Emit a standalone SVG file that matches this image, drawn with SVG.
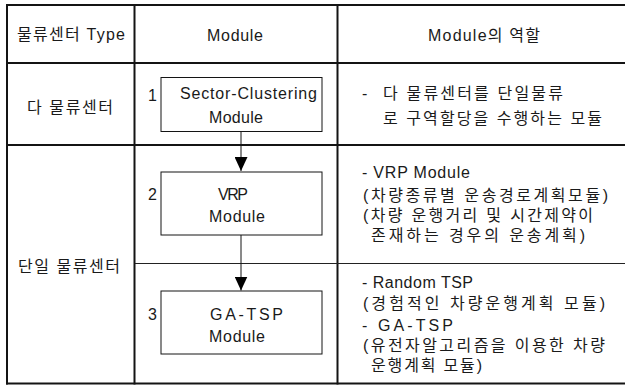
<svg xmlns="http://www.w3.org/2000/svg" width="625" height="385" viewBox="0 0 625 385">
<style>
.t{font-family:"Liberation Sans","Noto Sans CJK KR",sans-serif;font-size:16px;fill:#1a1a1a}
.grid{stroke:#141414;stroke-width:2;fill:none}
.thin{stroke:#222;stroke-width:1;fill:none}
.box{fill:#fff;stroke:#141414;stroke-width:1}
.conn{stroke:#141414;stroke-width:1;fill:none}
</style>
<defs>
<marker id="arrow" markerUnits="userSpaceOnUse" markerWidth="14" markerHeight="13" refX="14" refY="6.5" orient="auto" viewBox="0 0 14 13">
<path d="M0,0 L14,6.5 L0,13 Z" fill="#000"/>
</marker>
</defs>
<rect width="625" height="385" fill="#fff"/>
<g id="table">
<line class="grid" x1="6" y1="5" x2="625" y2="5"/>
<line class="grid" x1="6" y1="63" x2="625" y2="63"/>
<line class="grid" x1="6" y1="145" x2="625" y2="145"/>
<line class="grid" x1="6" y1="383.5" x2="625" y2="383.5"/>
<line class="grid" x1="7" y1="4" x2="7" y2="384.5"/>
<line class="grid" x1="134.5" y1="4" x2="134.5" y2="384.5"/>
<line class="grid" x1="337.5" y1="4" x2="337.5" y2="384.5"/>
<line class="thin" x1="135" y1="263.5" x2="625" y2="263.5"/>
</g>
<g id="header">
<text class="t" x="17" y="40" textLength="108" lengthAdjust="spacing">물류센터 Type</text>
<text class="t" x="207" y="41" textLength="56" lengthAdjust="spacing">Module</text>
<text class="t" x="428" y="41" textLength="112" lengthAdjust="spacing">Module의 역할</text>
</g>
<g id="type-multi">
<text class="t" x="27" y="113" textLength="86" lengthAdjust="spacing">다 물류센터</text>
</g>
<g id="type-single">
<text class="t" x="18" y="272" textLength="102" lengthAdjust="spacing">단일 물류센터</text>
</g>
<g id="connectors">
<line class="conn" x1="241" y1="131" x2="241" y2="171" marker-end="url(#arrow)"/>
<line class="conn" x1="241" y1="235" x2="241" y2="290.5" marker-end="url(#arrow)"/>
</g>
<g id="module1">
<rect class="box" x="161" y="77.5" width="161" height="54"/>
<text class="t" x="148" y="101">1</text>
<text class="t" x="180" y="99" textLength="137" lengthAdjust="spacing">Sector-Clustering</text>
<text class="t" x="209" y="123" textLength="54" lengthAdjust="spacing">Module</text>
</g>
<g id="module2">
<rect class="box" x="161" y="172" width="161" height="63"/>
<text class="t" x="148" y="200">2</text>
<text class="t" x="218" y="200" textLength="30" lengthAdjust="spacing">VRP</text>
<text class="t" x="209" y="222" textLength="56" lengthAdjust="spacing">Module</text>
</g>
<g id="module3">
<rect class="box" x="161" y="291" width="161" height="63"/>
<text class="t" x="148" y="320">3</text>
<text class="t" x="210" y="320" textLength="73" lengthAdjust="spacing">GA-TSP</text>
<text class="t" x="209" y="342" textLength="56" lengthAdjust="spacing">Module</text>
</g>
<g id="role1">
<text class="t" x="362" y="99">-</text>
<text class="t" x="383" y="99" textLength="180" lengthAdjust="spacing">다 물류센터를 단일물류</text>
<text class="t" x="383" y="124" textLength="219" lengthAdjust="spacing">로 구역할당을 수행하는 모듈</text>
</g>
<g id="role2">
<text class="t" x="362" y="178" textLength="108" lengthAdjust="spacing">- VRP Module</text>
<text class="t" x="363" y="201" textLength="245" lengthAdjust="spacing">(차량종류별 운송경로계획모듈)</text>
<text class="t" x="363" y="221" textLength="230" lengthAdjust="spacing">(차량 운행거리 및 시간제약이</text>
<text class="t" x="371" y="241" textLength="214" lengthAdjust="spacing">존재하는 경우의 운송계획)</text>
</g>
<g id="role3">
<text class="t" x="362" y="288" textLength="111" lengthAdjust="spacing">- Random TSP</text>
<text class="t" x="363" y="309" textLength="242" lengthAdjust="spacing">(경험적인 차량운행계획 모듈)</text>
<text class="t" x="362" y="331" textLength="91" lengthAdjust="spacing">- GA-TSP</text>
<text class="t" x="363" y="351" textLength="242" lengthAdjust="spacing">(유전자알고리즘을 이용한 차량</text>
<text class="t" x="371" y="371" textLength="111" lengthAdjust="spacing">운행계획 모듈)</text>
</g>
</svg>
